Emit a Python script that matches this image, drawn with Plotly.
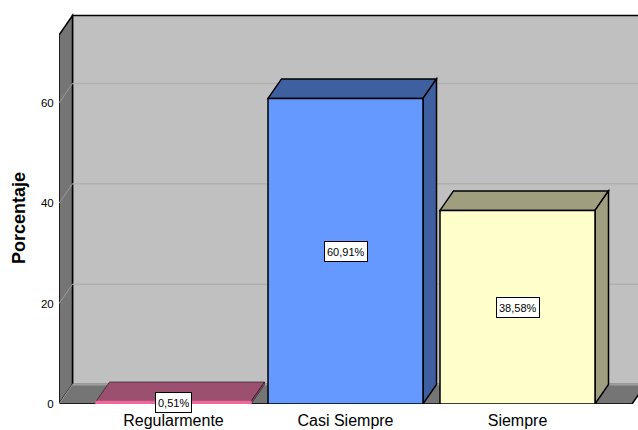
import plotly.graph_objects as go

categories = ["Regularmente", "Casi Siempre", "Siempre"]
values = [0.51, 60.91, 38.58]
value_labels = ["0,51%", "60,91%", "38,58%"]
y_ticks = [0, 20, 40, 60]
front_colors = ["#F0699B", "#6699FF", "#FFFFCC"]
dark_colors = ["#9C5070", "#3F60A0", "#9F9F7F"]

W, H = 638, 430
LEFT, BOTTOM = 59, 26
PX_PER_X = 172.0
PX_PER_Y = 5.017
CENTER0_PX = 173.5
BAR_W = 155 / PX_PER_X
DX = 13.5 / PX_PER_X
DY = 19.5 / PX_PER_Y

x_min = (LEFT - CENTER0_PX) / PX_PER_X
x_max = (W - CENTER0_PX) / PX_PER_X
y_max = (H - BOTTOM) / PX_PER_Y
x_floor_end = (632 - CENTER0_PX) / PX_PER_X
y_front_top = (H - BOTTOM - 35) / PX_PER_Y


def poly(pts, fill, line="#000000", width=1.5, layer="below"):
    p = "M " + " L ".join(f"{a:.4f},{b:.4f}" for a, b in pts) + " Z"
    return dict(type="path", path=p, xref="x", yref="y", fillcolor=fill,
                line=dict(color=line, width=width), layer=layer)


def seg(x0, y0, x1, y1, color, width=1.0):
    return dict(type="line", x0=x0, y0=y0, x1=x1, y1=y1, xref="x", yref="y",
                line=dict(color=color, width=width), layer="below")


shapes = [
    poly([(x_min + DX, DY), (x_max + 1, DY), (x_max + 1, y_front_top + DY), (x_min + DX, y_front_top + DY)], "#C0C0C0"),
    poly([(x_min, 0), (x_min + DX, DY), (x_min + DX, y_front_top + DY), (x_min, y_front_top)], "#757575"),
    poly([(x_min, 0), (x_floor_end, 0), (x_floor_end + DX, DY), (x_max + 1, DY), (x_min + DX, DY)], "#757575", width=0),
    seg(x_min, 0, x_floor_end, 0, "#000000", 1.5),
    seg(x_floor_end, 0, x_floor_end + DX, DY, "#000000", 1.5),
    seg(x_min, 0, x_min + DX, DY, "#9A9A9A", 1),
    seg(x_min + DX, DY, x_max + 1, DY, "#A0A0A0", 2),
]
for t in y_ticks[1:]:
    shapes.append(seg(x_min, t, x_min + DX, t + DY, "#9A9A9A", 1))
    shapes.append(seg(x_min + DX, t + DY, x_max + 1, t + DY, "#B0B0B0", 1.5))

for i, v in enumerate(values):
    x0, x1 = i - BAR_W / 2, i + BAR_W / 2
    shapes.append(poly([(x0, v), (x1, v), (x1 + DX, v + DY), (x0 + DX, v + DY)], dark_colors[i],
                       width=1.5 if v > 5 else 0.5))
    shapes.append(poly([(x1, 0), (x1 + DX, DY), (x1 + DX, v + DY), (x1, v)], dark_colors[i],
                       width=1.5 if v > 5 else 0.5))

annotations = [
    dict(x=i, y=v / 2, xref="x", yref="y", text=value_labels[i], showarrow=False,
         font=dict(family="Liberation Sans", size=11, color="#000000"), height=15,
         bgcolor="#FFFFFF", bordercolor="#000000", borderwidth=1, borderpad=2)
    for i, v in enumerate(values)
]
annotations.append(dict(
    x=(19 - LEFT) / (W - LEFT), y=(H - BOTTOM - 218) / (H - BOTTOM),
    xref="paper", yref="paper", xanchor="center", yanchor="middle",
    text="<b>Porcentaje</b>", showarrow=False, textangle=-90,
    font=dict(family="Liberation Sans", size=18, color="#000000"),
))

fig = go.Figure(go.Bar(
    x=list(range(len(categories))), y=values, width=BAR_W,
    marker=dict(color=front_colors,
                line=dict(color=["#F0699B", "#000000", "#000000"], width=1.5)),
    hoverinfo="skip",
))
fig.update_layout(
    width=W, height=H, margin=dict(l=LEFT, r=0, t=0, b=BOTTOM, pad=0),
    paper_bgcolor="#FFFFFF", plot_bgcolor="#FFFFFF", showlegend=False,
    shapes=shapes, annotations=annotations,
    font=dict(family="Liberation Sans", color="#000000"),
)
fig.update_xaxes(range=[x_min, x_max], tickmode="array", tickvals=list(range(len(categories))),
                 ticktext=categories, tickfont=dict(size=16, family="Liberation Sans"),
                 showgrid=False, zeroline=False, showline=False, ticks="outside",
                 ticklen=2, tickcolor="rgba(0,0,0,0)")
fig.update_yaxes(range=[0, y_max], tickmode="array", tickvals=y_ticks,
                 tickfont=dict(size=11.5, family="Liberation Sans"),
                 showgrid=False, zeroline=False, showline=False, ticks="outside",
                 ticklen=2, tickcolor="rgba(0,0,0,0)")
fig.write_html("out.html", config={"displayModeBar": False},
               post_script="document.body.style.margin='0';document.body.style.overflow='hidden';")
